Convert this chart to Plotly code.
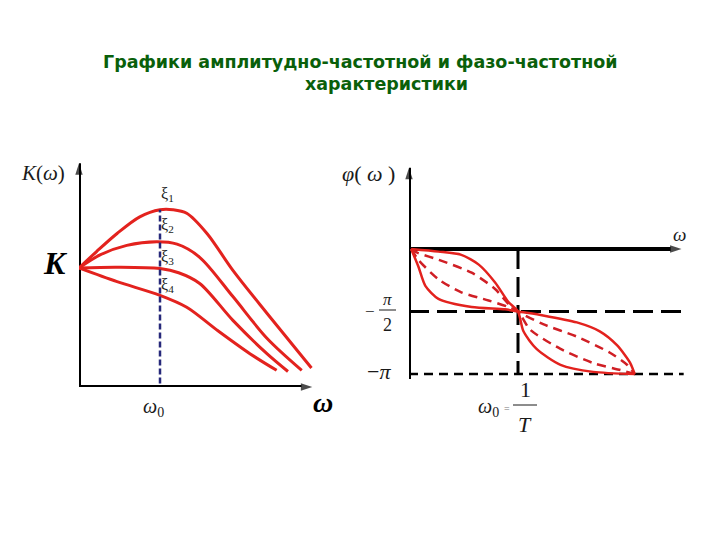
import math
import plotly.graph_objects as go

W, H = 720, 540
PI = math.pi

# ---------------- text ----------------
title_line1 = "Графики амплитудно-частотной и фазо-частотной"
title_line2 = "характеристики"

# ---------------- left panel: K(ω), ω in units of ω0, K in units of K0 ----------------
amp_w1 = [0.0, 0.22, 0.47, 0.75, 1.00, 1.16, 1.33, 1.58, 1.90, 2.32, 2.87]
amp_k1 = [1.00, 1.14, 1.29, 1.43, 1.49, 1.49, 1.46, 1.29, 0.98, 0.62, 0.16]
amp_w2 = [0.0, 0.26, 0.59, 0.96, 1.21, 1.49, 1.90, 2.32, 2.75]
amp_k2 = [1.00, 1.11, 1.19, 1.22, 1.20, 1.09, 0.76, 0.41, 0.14]
amp_w3 = [0.0, 0.47, 1.00, 1.23, 1.49, 1.90, 2.32, 2.58]
amp_k3 = [1.00, 1.006, 0.995, 0.96, 0.87, 0.56, 0.28, 0.13]
amp_w4 = [0.0, 0.47, 1.00, 1.33, 1.70, 2.11, 2.44]
amp_k4 = [1.00, 0.885, 0.77, 0.67, 0.48, 0.28, 0.14]

xi_labels = ["ξ<sub>1</sub>", "ξ<sub>2</sub>", "ξ<sub>3</sub>", "ξ<sub>4</sub>"]
xi_label_k = [1.62, 1.36, 1.09, 0.85]
omega0 = 1.0
omega0_marker_k = [0.03, 1.49]

amp_axis_w_end = 2.88
amp_axis_k_end = 1.88

# ---------------- right panel: φ(ω) ----------------
ph_wA = [0.02, 0.27, 0.48, 0.64, 0.79, 0.91, 1.00, 1.05, 1.17, 1.39, 1.69, 2.07]
ph_pA = [0.0, -0.066, -0.147, -0.393, -0.842, -1.325, -PI / 2, -2.069, -2.511, -2.910, -3.088, -PI]
ph_wB = [0.02, 0.085, 0.15, 0.27, 0.575, 0.88, 1.00, 1.23, 1.54, 1.75, 1.91, 2.03, 2.07]
ph_pB = [0.0, -0.434, -0.925, -1.252, -1.455, -1.514, -PI / 2, -1.669, -1.845, -2.069, -2.423, -2.867, -PI]
ph_wC = [0.02, 0.08, 0.27, 0.575, 0.79, 0.91, 1.00, 1.23, 1.54, 1.84, 2.00, 2.07]
ph_pC = [0.0, -0.098, -0.270, -0.596, -1.006, -1.374, -PI / 2, -1.890, -2.202, -2.601, -2.910, -PI]
ph_wD = [0.02, 0.085, 0.27, 0.48, 0.73, 0.91, 1.00, 1.11, 1.39, 1.69, 1.94, 2.07]
ph_pD = [0.0, -0.270, -0.761, -1.088, -1.294, -1.456, -PI / 2, -2.023, -2.511, -2.867, -3.043, -PI]

phase_levels = [-PI / 2, -PI]
phase_level_w_end = [2.51, 2.52]
ph_axis_w_end = 2.50
ph_axis_p_top = 2.04
ph_axis_p_bottom = -3.27

# ---------------- styling ----------------
RED = "#e3221e"
RED_D = "#d01f25"
NAVY = "#26287a"
SERIF = "Liberation Serif"
OFF = 8  # page body margin in the browser


def paper_x(px):
    return (px - OFF) / W


def paper_y(py):
    return 1 - (py - OFF) / H


fig = go.Figure()


def line_trace(xs, ys, xa, ya, **line):
    fig.add_trace(go.Scatter(x=xs, y=ys, mode="lines", xaxis=xa, yaxis=ya, hoverinfo="skip",
                             cliponaxis=False, line=line))


# axes drawn as arrow lines
def axis_line(xs, ys, xa, ya):
    fig.add_trace(go.Scatter(x=xs, y=ys, mode="lines+markers", xaxis=xa, yaxis=ya, hoverinfo="skip",
                             cliponaxis=False, line=dict(color="black", width=4),
                             marker=dict(symbol="arrow", size=[0, 12], angleref="previous", color="black",
                                         line=dict(width=0, color="black"))))


axis_line([0, 0], [0, amp_axis_k_end], "x", "y")
axis_line([0, amp_axis_w_end], [0, 0], "x", "y")
axis_line([0, 0], [ph_axis_p_bottom, ph_axis_p_top], "x2", "y2")
axis_line([0, ph_axis_w_end], [0, 0], "x2", "y2")

# left curves
for w, k in [(amp_w1, amp_k1), (amp_w2, amp_k2), (amp_w3, amp_k3), (amp_w4, amp_k4)]:
    line_trace(w, k, "x", "y", color=RED, width=3, shape="spline", smoothing=0.9)
line_trace([omega0, omega0], omega0_marker_k, "x", "y", color=NAVY, width=2.5, dash="6px,3px")

# right reference lines
line_trace([0, phase_level_w_end[0]], [phase_levels[0]] * 2, "x2", "y2", color="black", width=3, dash="20px,8px")
line_trace([0, phase_level_w_end[1]], [phase_levels[1]] * 2, "x2", "y2", color="black", width=2.5, dash="9px,6px")
line_trace([omega0, omega0], [0, -PI], "x2", "y2", color="black", width=3, dash="20px,8px")

# right curves
for w, p in [(ph_wC, ph_pC), (ph_wD, ph_pD)]:
    line_trace(w, p, "x2", "y2", color=RED_D, width=2.5, dash="9px,6px", shape="spline", smoothing=0.7)
for w, p in [(ph_wA, ph_pA), (ph_wB, ph_pB)]:
    line_trace(w, p, "x2", "y2", color=RED, width=2.5, shape="spline", smoothing=0.7)

anns = []


def txt(px, py, text, size, color="#1a1a1a", family=SERIF):
    anns.append(dict(x=paper_x(px), y=paper_y(py), xref="paper", yref="paper", text=text, showarrow=False,
                     xanchor="center", yanchor="middle", font=dict(size=size, color=color, family=family)))


# title
txt(360, 62, "<b>" + title_line1 + "</b>", 17.5, color="#0a5f0a", family="DejaVu Sans")
txt(386, 84, "<b>" + title_line2 + "</b>", 17.5, color="#0a5f0a", family="DejaVu Sans")

# left labels
txt(43, 173, "<i>K</i>(<i>ω</i>)", 21)
txt(55, 263, "<b><i>K</i></b>", 32, color="black")
for lab, k in zip(xi_labels, xi_label_k):
    anns.append(dict(x=1.09, y=k, xref="x", yref="y", text=lab, showarrow=False, xanchor="center", yanchor="middle",
                     font=dict(size=16, color="#222", family=SERIF)))
txt(153, 407, "<i>ω</i><sub>0</sub>", 20)
txt(323, 402, "<b><i>ω</i></b>", 28, color="black")

# right labels
txt(368, 174, "<i>φ</i>( <i>ω</i> )", 22)
txt(679, 234, "<i>ω</i>", 19)
txt(370, 311, "−", 17)
txt(387, 299, "<i>π</i>", 17)
txt(387, 325, "2", 18)
txt(379, 371, "−<i>π</i>", 22)
txt(489, 407, "<i>ω</i><sub>0</sub>", 20)
txt(507, 408, "=", 10, color="#777")
txt(525, 389, "1", 22)
txt(525, 424, "<i>T</i>", 22)

shapes = [
    dict(type="line", xref="paper", yref="paper", x0=paper_x(379), x1=paper_x(396), y0=paper_y(310), y1=paper_y(310),
         line=dict(color="#1a1a1a", width=1)),
    dict(type="line", xref="paper", yref="paper", x0=paper_x(513), x1=paper_x(537), y0=paper_y(405), y1=paper_y(405),
         line=dict(color="#1a1a1a", width=1)),
]

# axis placement (pixels -> paper)
L_X0, L_PXU = 79, 81.0
L_Y0, L_PYU = 387, 119.0
R_X0, R_PXU = 409, 109.0
R_Y0, R_PYU = 249, 125.0 / PI

hidden = dict(visible=False, showgrid=False, zeroline=False, fixedrange=True)
fig.update_layout(
    width=W, height=H, margin=dict(l=0, r=0, t=0, b=0),
    paper_bgcolor="white", plot_bgcolor="rgba(0,0,0,0)", showlegend=False,
    xaxis=dict(domain=[paper_x(L_X0), paper_x(L_X0 + 3.0 * L_PXU)], range=[0, 3.0], **hidden),
    yaxis=dict(domain=[paper_y(L_Y0), paper_y(L_Y0 - 2.0 * L_PYU)], range=[0, 2.0], **hidden),
    xaxis2=dict(domain=[paper_x(R_X0), paper_x(R_X0 + 2.6 * R_PXU)], range=[0, 2.6], anchor="y2", **hidden),
    yaxis2=dict(domain=[paper_y(R_Y0 + 3.6 * R_PYU), paper_y(R_Y0 - 2.2 * R_PYU)], range=[-3.6, 2.2], anchor="x2",
                **hidden),
    annotations=anns, shapes=shapes,
)

fig.write_html("out.html", config={"displayModeBar": False})
